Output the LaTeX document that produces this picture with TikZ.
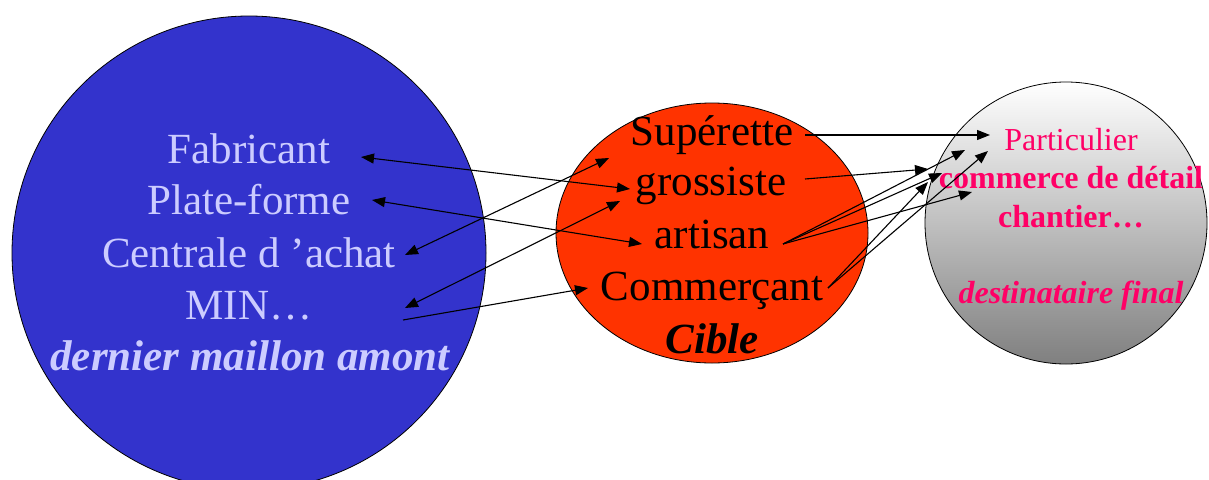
\documentclass[tikz,border=0pt]{standalone}
\usepackage{fontspec}
\setmainfont{Liberation Serif}
\usetikzlibrary{arrows.meta,shapes.geometric}
\definecolor{bluefill}{HTML}{3333CC}
\definecolor{bluetext}{HTML}{CCCCFF}
\definecolor{redfill}{HTML}{FF3300}
\definecolor{pinktext}{HTML}{FF0066}
\begin{document}
\begin{tikzpicture}[x=1pt,y=-1pt,
  big/.style={anchor=base, inner sep=0pt, font=\fontsize{43}{52}\selectfont},
  small/.style={anchor=base, inner sep=0pt, font=\fontsize{32}{38}\selectfont, text=pinktext},
  bluelbl/.style={big, text=bluetext},
  redlbl/.style={big, text=black},
  tipstyle/.style={line width=1.1pt},
  oneway/.style={tipstyle, -{Triangle[length=13pt,width=10pt]}},
  twoway/.style={tipstyle, {Triangle[length=13pt,width=10pt]}-{Triangle[length=13pt,width=10pt]}}
]
\useasboundingbox (0,0) rectangle (1209,479);
% circles
\node[circle, draw=black, line width=0.8pt, fill=bluefill, minimum size=474pt, inner sep=0pt] (amont) at (249,253) {};
\node[ellipse, draw=black, line width=0.8pt, fill=redfill, minimum width=312pt, minimum height=260pt, inner sep=0pt] (cible) at (712,233) {};
\node[circle, draw=black, line width=0.8pt, top color=white, bottom color=black!50, minimum size=282pt, inner sep=0pt] (final) at (1066,223) {};
% blue texts
\node[bluelbl] (fab) at (249,163) {Fabricant};
\node[bluelbl] (plat) at (249,214) {Plate-forme};
\node[bluelbl] (cent) at (249,267) {Centrale d ’achat};
\node[bluelbl] (min) at (249,319) {MIN…};
\node[bluelbl, font=\fontsize{43}{52}\selectfont\bfseries\itshape] (dern) at (250,370) {dernier maillon amont};
% red texts
\node[redlbl] (sup) at (712,145) {Supérette};
\node[redlbl] (gros) at (711,195) {grossiste};
\node[redlbl] (art) at (712,248) {artisan};
\node[redlbl] (com) at (712,300) {Commerçant};
\node[redlbl, font=\fontsize{43}{52}\selectfont\bfseries\itshape] (cib) at (712,353) {Cible};
% grey texts
\node[small] (part) at (1071,150) {Particulier};
\node[small, font=\fontsize{32}{38}\selectfont\bfseries] (comdet) at (1071,188) {commerce de détail};
\node[small, font=\fontsize{32}{38}\selectfont\bfseries] (chan) at (1071,227) {chantier…};
\node[small, font=\fontsize{32}{38}\selectfont\bfseries\itshape] (dest) at (1071,303) {destinataire final};
% connector end points
\coordinate (fabE) at (361,157);
\coordinate (grosW) at (630,189);
\coordinate (platE) at (372,200);
\coordinate (artW) at (642,244);
\coordinate (centE) at (405,255);
\coordinate (supW) at (609,158);
\coordinate (minE) at (405,308);
\coordinate (grosSW) at (620,201);
\coordinate (minS) at (403,320);
\coordinate (comW) at (588,288);
\coordinate (supE) at (805,135);
\coordinate (partW) at (990,135);
\coordinate (grosE) at (805,179);
\coordinate (tD) at (928,169);
\coordinate (artE) at (783,244);
\coordinate (tB) at (965,150);
\coordinate (tE) at (942,173);
\coordinate (tG) at (972,192);
\coordinate (comE) at (828,288);
\coordinate (tF) at (928,182);
\coordinate (tC) at (988,151);
% left connectors
\draw[twoway] (fabE) -- (grosW);
\draw[twoway] (platE) -- (artW);
\draw[twoway] (centE) -- (supW);
\draw[twoway] (minE) -- (grosSW);
\draw[oneway] (minS) -- (comW);
% right connectors
\draw[oneway] (supE) -- (partW);
\draw[oneway] (grosE) -- (tD);
\draw[oneway] (artE) -- (tB);
\draw[oneway] (artE) -- (tE);
\draw[oneway] (artE) -- (tG);
\draw[oneway] (comE) -- (tF);
\draw[oneway] (comE) -- (tC);
\end{tikzpicture}
\end{document}
